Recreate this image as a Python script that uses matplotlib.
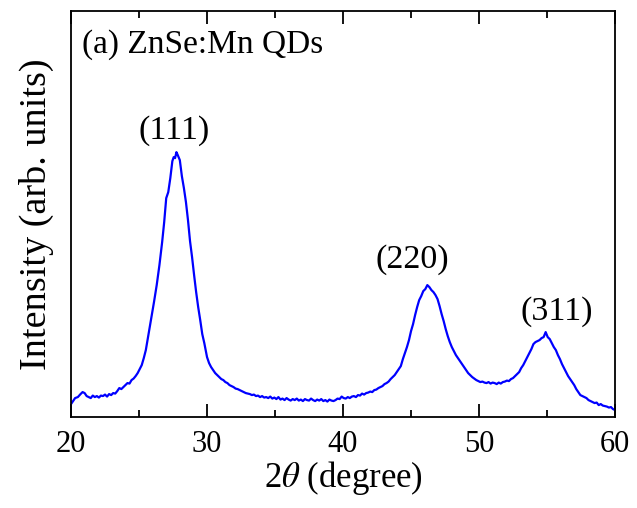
import matplotlib
matplotlib.use("Agg")
import matplotlib.pyplot as plt
from matplotlib.ticker import MultipleLocator, NullLocator

plt.rcParams['font.family'] = ['Liberation Serif', 'DejaVu Serif']
plt.rcParams['mathtext.fontset'] = 'stix'

# XRD pattern of ZnSe:Mn quantum dots
two_theta = [
    20.0, 20.15, 20.3, 20.5, 20.7, 20.85, 21.0, 21.15, 21.3, 21.45, 21.6, 21.75,
    21.9, 22.05, 22.2, 22.35, 22.5, 22.65, 22.8, 22.95, 23.1, 23.25, 23.4, 23.55,
    23.7, 23.85, 24.0, 24.15, 24.3, 24.45, 24.6, 24.75, 24.9, 25.05, 25.2, 25.35,
    25.5, 25.65, 25.8, 25.95, 26.1, 26.3, 26.5, 26.7, 26.85, 27.0, 27.15, 27.3,
    27.45, 27.55, 27.65, 27.75, 27.85, 28.0, 28.15, 28.3, 28.45, 28.6, 28.75, 28.9,
    29.05, 29.2, 29.35, 29.5, 29.65, 29.8, 30.0, 30.15, 30.3, 30.45, 30.6, 30.75,
    30.9, 31.05, 31.2, 31.35, 31.5, 31.65, 31.8, 31.95, 32.1, 32.25, 32.4, 32.55,
    32.7, 32.85, 33.0, 33.15, 33.3, 33.45, 33.6, 33.75, 33.9, 34.05, 34.2, 34.35,
    34.5, 34.65, 34.8, 34.95, 35.1, 35.25, 35.4, 35.55, 35.7, 35.85, 36.0, 36.15,
    36.3, 36.45, 36.6, 36.75, 36.9, 37.05, 37.2, 37.35, 37.5, 37.65, 37.8, 37.95,
    38.1, 38.25, 38.4, 38.55, 38.7, 38.85, 39.0, 39.15, 39.3, 39.45, 39.6, 39.75,
    39.9, 40.05, 40.2, 40.35, 40.5, 40.65, 40.8, 40.95, 41.1, 41.25, 41.4, 41.55,
    41.7, 41.85, 42.0, 42.15, 42.3, 42.45, 42.6, 42.75, 42.9, 43.05, 43.2, 43.35,
    43.5, 43.65, 43.8, 43.95, 44.1, 44.25, 44.4, 44.55, 44.7, 44.85, 45.0, 45.15,
    45.3, 45.45, 45.6, 45.75, 45.9, 46.05, 46.2, 46.35, 46.5, 46.65, 46.8, 46.95,
    47.1, 47.25, 47.4, 47.55, 47.7, 47.85, 48.0, 48.15, 48.3, 48.45, 48.6, 48.75,
    48.9, 49.05, 49.2, 49.35, 49.5, 49.65, 49.8, 49.95, 50.1, 50.25, 50.4, 50.55,
    50.7, 50.85, 51.0, 51.15, 51.3, 51.45, 51.6, 51.75, 51.9, 52.05, 52.2, 52.35,
    52.5, 52.65, 52.8, 52.95, 53.1, 53.25, 53.4, 53.55, 53.7, 53.85, 54.0, 54.15,
    54.3, 54.45, 54.6, 54.75, 54.9, 55.05, 55.2, 55.35, 55.5, 55.65, 55.8, 55.95,
    56.1, 56.25, 56.4, 56.55, 56.7, 56.85, 57.0, 57.15, 57.3, 57.45, 57.6, 57.75,
    57.9, 58.05, 58.2, 58.35, 58.5, 58.65, 58.8, 58.95, 59.1, 59.25, 59.4, 59.55,
    59.7, 59.85, 60.0,
]
intensity = [
    130, 160, 190, 200, 230, 250, 240, 210, 200, 190, 215, 200,
    210, 195, 215, 210, 225, 205, 230, 220, 240, 235, 260, 290,
    280, 300, 320, 340, 335, 370, 385, 410, 440, 480, 520, 590,
    670, 790, 910, 1030, 1150, 1320, 1520, 1750, 1950, 2190, 2250, 2390,
    2560, 2600, 2590, 2650, 2620, 2570, 2410, 2290, 2150, 1970, 1760, 1600,
    1420, 1250, 1100, 970, 830, 740, 600, 540, 500, 470, 440, 420,
    400, 380, 370, 350, 340, 320, 310, 300, 285, 280, 270, 260,
    250, 240, 235, 230, 220, 225, 210, 215, 200, 210, 195, 200,
    190, 205, 185, 195, 180, 200, 175, 185, 170, 190, 175, 165,
    180, 170, 185, 165, 175, 160, 180, 170, 165, 185, 170, 160,
    175, 165, 180, 160, 170, 155, 175, 165, 160, 170, 185, 180,
    205, 190, 185, 200, 190, 205, 210, 200, 220, 215, 235, 225,
    240, 245, 255, 250, 270, 275, 290, 300, 310, 330, 340, 355,
    380, 400, 420, 450, 480, 510, 580, 640, 700, 770, 860, 930,
    1020, 1100, 1170, 1210, 1260, 1280, 1320, 1300, 1270, 1250, 1220, 1180,
    1110, 1030, 960, 880, 810, 750, 700, 660, 620, 590, 560, 530,
    500, 470, 440, 420, 400, 385, 370, 360, 350, 355, 345, 340,
    350, 335, 345, 340, 330, 345, 335, 350, 355, 365, 360, 380,
    390, 410, 430, 450, 490, 520, 560, 600, 640, 680, 730, 750,
    760, 770, 790, 800, 850, 800, 780, 740, 700, 670, 620, 580,
    530, 490, 450, 410, 380, 350, 320, 280, 250, 220, 210, 200,
    190, 170, 160, 150, 140, 145, 120, 130, 115, 110, 105, 95,
    100, 80, 70,
]

peak_labels = ["(111)", "(220)", "(311)"]
peak_positions = [27.6, 45.1, 55.7]
label_heights = [2780, 1490, 970]

fig = plt.figure(figsize=(6.37, 5.08), dpi=100)
ax = fig.add_axes([0.1115, 0.179, 0.854, 0.799])

ax.plot(two_theta, intensity, color='#0000ff', lw=1.6)

for lab, xp, yp in zip(peak_labels, peak_positions, label_heights):
    ax.text(xp, yp, lab, ha='center', va='baseline', fontsize=24.5)

ax.text(0.02, 0.897, "(a) ZnSe:Mn QDs", transform=ax.transAxes,
        ha='left', va='baseline', fontsize=24)

ax.set_xlim(20, 60)
ax.set_ylim(0, 4060)
ax.xaxis.set_major_locator(MultipleLocator(10))
ax.xaxis.set_minor_locator(MultipleLocator(5))
ax.yaxis.set_major_locator(NullLocator())
ax.yaxis.set_minor_locator(NullLocator())
ax.tick_params(axis='x', which='both', direction='in', top=True,
               labelsize=22, width=1.3, pad=9)
ax.tick_params(axis='x', which='major', length=9.5)
ax.tick_params(axis='x', which='minor', length=5)
for sp in ax.spines.values():
    sp.set_linewidth(1.3)

ax.set_xlabel(r'2$\theta$ (degree)', fontsize=25, labelpad=0)
ax.set_ylabel('Intensity (arb. units)', fontsize=27.5, labelpad=12)

fig.savefig('out.png', dpi=100)
